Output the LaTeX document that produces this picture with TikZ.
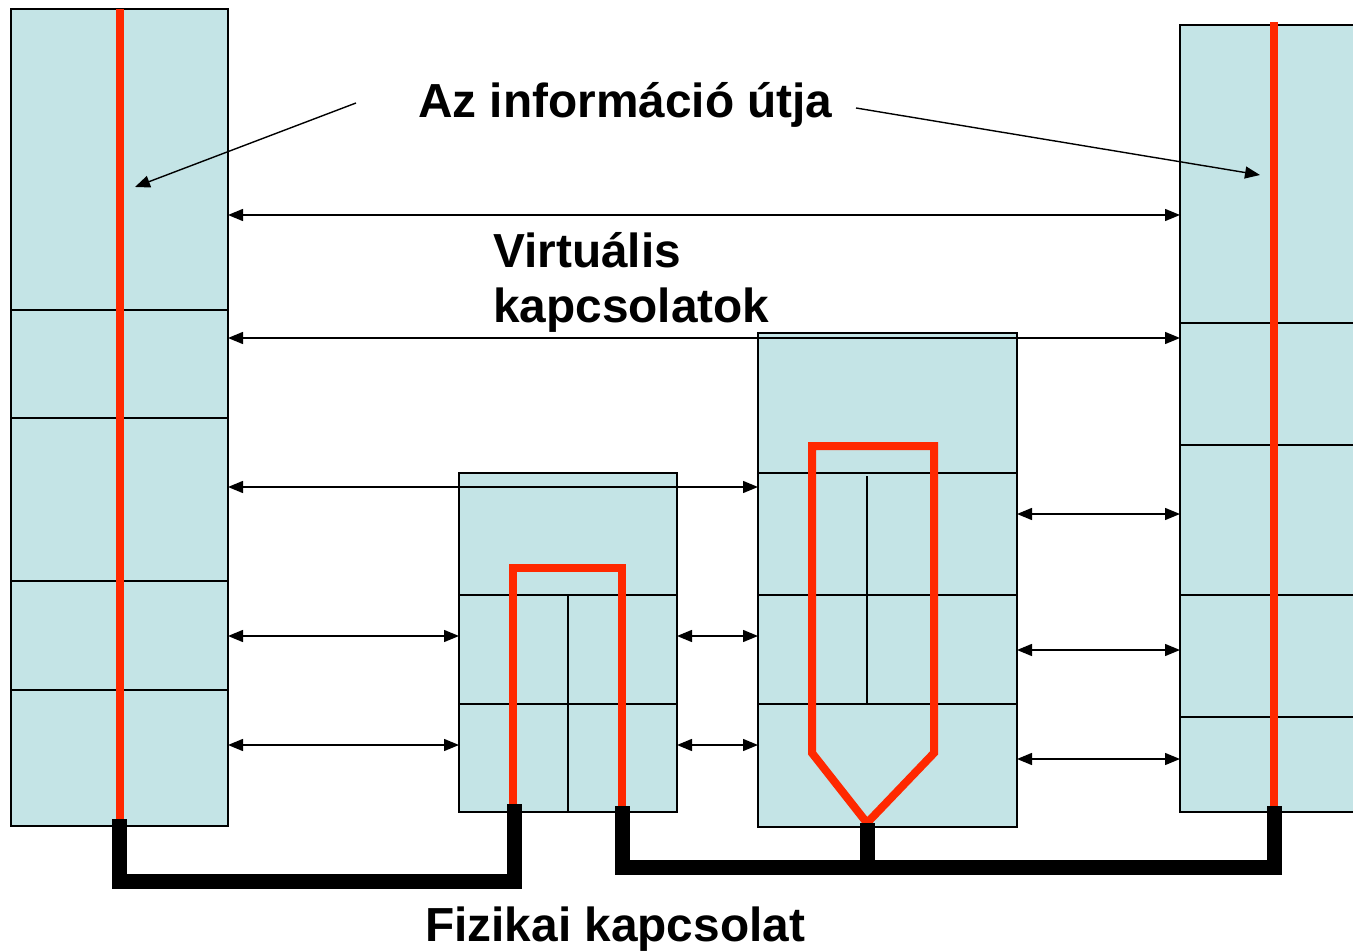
\documentclass[tikz,border=0pt]{standalone}
\usepackage{fontspec}
\setmainfont{Liberation Sans}
\usetikzlibrary{arrows.meta}
\definecolor{layerfill}{RGB}{196,228,230}
\definecolor{pathred}{RGB}{255,40,0}
\begin{document}
\begin{tikzpicture}[x=1pt,y=-1pt,
  cell/.style={draw=black,line width=1.5pt,fill=layerfill,rectangle,
    inner sep=0pt,outer sep=0pt,anchor=north west},
  divider/.style={draw=black,line width=1.5pt},
  vlink/.style={line width=1.4pt,
    {Triangle[length=15pt,width=12pt]}-{Triangle[length=15pt,width=12pt]}},
  pointer/.style={line width=1.4pt,-{Triangle[length=15pt,width=12pt]}},
  infopath/.style={draw=pathred,line width=8pt,line join=miter},
  wire/.style={draw=black,line width=15pt,line join=miter},
  label/.style={font=\fontsize{47.8}{56}\selectfont\bfseries,inner sep=0pt,anchor=base west}
]
\clip (0,0) rectangle (1353,952);

% left end system
\node[cell,minimum width=217pt,minimum height=301pt] (L1) at (11,9) {};
\node[cell,minimum width=217pt,minimum height=108pt] (L2) at (11,310) {};
\node[cell,minimum width=217pt,minimum height=163pt] (L3) at (11,418) {};
\node[cell,minimum width=217pt,minimum height=109pt] (L4) at (11,581) {};
\node[cell,minimum width=217pt,minimum height=136pt] (L5) at (11,690) {};

% right end system
\node[cell,minimum width=188pt,minimum height=298pt] (R1) at (1180,25) {};
\node[cell,minimum width=188pt,minimum height=122pt] (R2) at (1180,323) {};
\node[cell,minimum width=188pt,minimum height=150pt] (R3) at (1180,445) {};
\node[cell,minimum width=188pt,minimum height=122pt] (R4) at (1180,595) {};
\node[cell,minimum width=188pt,minimum height=95pt] (R5) at (1180,717) {};

% first intermediate node
\node[cell,minimum width=218pt,minimum height=122pt] (A1) at (459,473) {};
\node[cell,minimum width=218pt,minimum height=109pt] (A2) at (459,595) {};
\node[cell,minimum width=218pt,minimum height=108pt] (A3) at (459,704) {};
\draw[divider] (A2.north) -- (A3.south);

% second intermediate node
\node[cell,minimum width=259pt,minimum height=140pt] (B1) at (758,333) {};
\node[cell,minimum width=259pt,minimum height=122pt] (B2) at (758,473) {};
\node[cell,minimum width=259pt,minimum height=109pt] (B3) at (758,595) {};
\node[cell,minimum width=259pt,minimum height=123pt] (B4) at (758,704) {};
\draw[divider] (B2.north -| 867,0) ++(0,3) -- (B3.south -| 867,0);

% virtual connections between peer layers
\draw[vlink] (L1.east |- 0,215) -- (R1.west |- 0,215);
\draw[vlink] (L2.east |- 0,338) -- (R2.west |- 0,338);
\draw[vlink] (L3.east |- 0,487) -- (B2.west |- 0,487);
\draw[vlink] (L4.east |- 0,636) -- (A2.west |- 0,636);
\draw[vlink] (L5.east |- 0,745) -- (A3.west |- 0,745);
\draw[vlink] (A2.east |- 0,636) -- (B3.west |- 0,636);
\draw[vlink] (A3.east |- 0,745) -- (B4.west |- 0,745);
\draw[vlink] (B2.east |- 0,514) -- (R3.west |- 0,514);
\draw[vlink] (B3.east |- 0,650) -- (R4.west |- 0,650);
\draw[vlink] (B4.east |- 0,759) -- (R5.west |- 0,759);

% labels
\node[label] (title) at (418,118) {Az információ útja};
\node[label] (virt1) at (493,268) {Virtuális};
\node[label] (virt2) at (493,323) {kapcsolatok};
\node[label] (phys) at (425,941) {Fizikai kapcsolat};

\coordinate (fromL) at (356,103);
\coordinate (tipL) at (135,187);
\coordinate (fromR) at (856,108);
\coordinate (tipR) at (1260,175);
\draw[pointer] (fromL) -- (tipL);
\draw[pointer] (fromR) -- (tipR);

% path of the information
\draw[infopath] (L1.north) -- (L5.south);
\draw[infopath] (R1.north |- 0,22) -- (R5.south);
\draw[infopath] (A3.south -| 513,0) -- (513,568) -- (622,568) -- (A3.south -| 622,0);
\coordinate (tip) at (867,823);
\draw[infopath] (tip) -- (812,753) -- (812,446) -- (934,446) -- (934,753) -- cycle;

% physical links
\coordinate (wL) at (119,819);
\coordinate (wA1) at (514,804);
\coordinate (wA2) at (622,806);
\coordinate (wR) at (1274,806);
\draw[wire] (wL) -- (119,881) -- (514,881) -- (wA1);
\draw[wire] (wA2) -- (622,867) -- (1274,867) -- (wR);
\draw[wire] (tip) -- (867,867);
\end{tikzpicture}
\end{document}
